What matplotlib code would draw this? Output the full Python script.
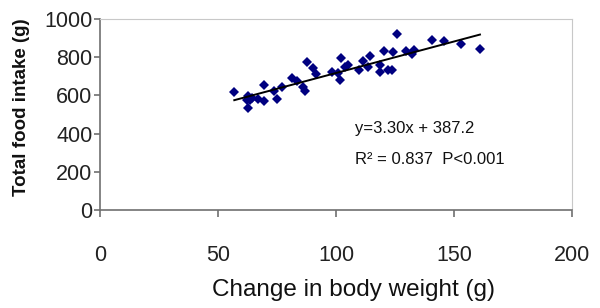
import numpy as np
import matplotlib
matplotlib.use("Agg")
import matplotlib.pyplot as plt

plt.rcParams['font.family'] = ['Liberation Sans', 'DejaVu Sans']

# change in body weight (g)
weight_change = [56.9, 62.2, 62.8, 63.6, 64.3, 62.6, 67.1, 69.5, 69.5, 73.7,
                 75.1, 77.0, 81.2, 83.3, 86.1, 86.9, 87.8, 90.4, 91.5, 98.4,
                 101.0, 101.7, 102.1, 103.8, 105.2, 109.9, 111.6, 113.7, 114.4, 118.6,
                 118.6, 120.3, 122.2, 123.6, 124.3, 125.7, 129.7, 132.1, 133.0, 140.8,
                 145.9, 152.8, 161.0]
# total food intake (g)
food_intake = [616, 576, 597, 576, 585, 536, 580, 654, 571, 623,
               581, 646, 690, 677, 645, 625, 776, 742, 710, 721,
               716, 681, 797, 750, 759, 733, 782, 750, 806, 759,
               724, 832, 733, 733, 826, 921, 832, 815, 838, 890,
               885, 869, 843]

slope, intercept = 3.30, 387.2
eq_text = "y=3.30x + 387.2"
stat_text = "R\u00b2 = 0.837  P<0.001"

fig = plt.figure(figsize=(6, 3.08), dpi=100)
ax = fig.add_axes([100/600, 98/308, 472/600, 191/308])

ax.plot(weight_change, food_intake, 'D', color='#000080', ms=4.8, mew=0)
xs = np.array([min(weight_change), max(weight_change)])
ax.plot(xs, slope*xs + intercept, color='black', lw=1.4)

ax.set_xlim(0, 200)
ax.set_ylim(0, 1000)
ax.set_xticks([0, 50, 100, 150, 200])
ax.set_yticks([0, 200, 400, 600, 800, 1000])

for s in ['top', 'right']:
    ax.spines[s].set_color('#c8c8c8')
for s in ['left', 'bottom']:
    ax.spines[s].set_color('#707070')
    ax.spines[s].set_linewidth(1.2)
ax.tick_params(axis='x', length=5, width=1.2, color='#707070', pad=20, labelsize=15.5, labelcolor='#222222')
ax.tick_params(axis='y', length=4.5, width=1.2, color='#707070', pad=1, labelsize=15.5, labelcolor='#222222')

ax.text(108, 429, eq_text, fontsize=12, va='center', color='#111111')
ax.text(108, 262, stat_text, fontsize=12, va='center', color='#111111')

fig.text(354/600, 1 - 290/308, "Change in body weight (g)", fontsize=17.5,
         ha='center', va='center', color='#111111')
fig.text(22/600, 1 - 107/308, "Total food intake (g)", fontsize=13.5, fontweight='bold',
         rotation=90, ha='center', va='center', color='#111111')

fig.savefig("out.png", dpi=100)
